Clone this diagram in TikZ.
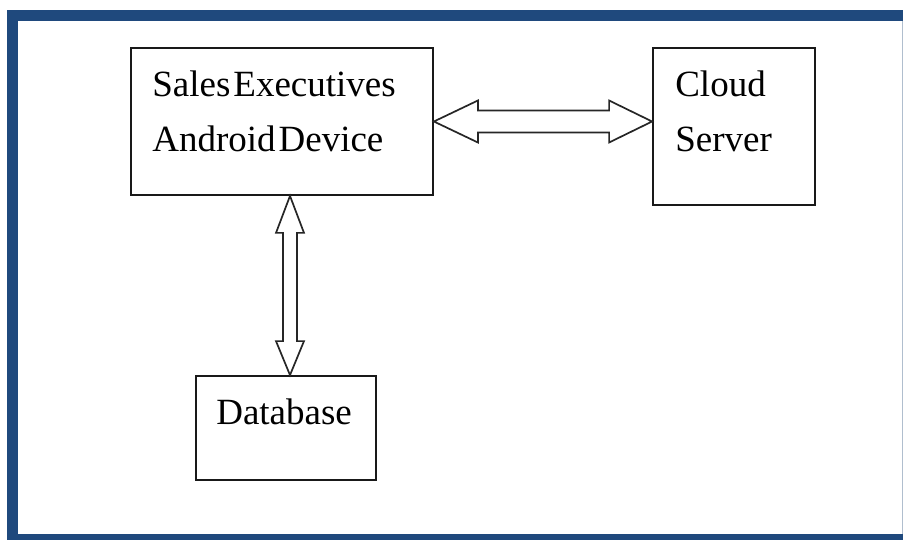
\documentclass[tikz,border=0pt]{standalone}
\usepackage{fontspec}
\setmainfont{Liberation Serif}
\usetikzlibrary{calc}
\definecolor{frameblue}{RGB}{31,73,125}
\definecolor{edgegray}{RGB}{176,190,206}
\newcommand\tsp{\hspace{3pt}}
\tikzset{
  box/.style={draw=black!90, line width=1.8pt, rectangle, inner sep=0pt},
  lbl/.style={inner sep=0pt, anchor=north west, align=left,
    font=\fontsize{37}{55}\selectfont},
  blockarrow/.style={draw=black!85, line width=1.7pt, fill=white, line join=miter}
}
\begin{document}
\begin{tikzpicture}[x=1pt,y=-1pt]
\useasboundingbox (0,0) rectangle (903,540);
% frame
\fill[frameblue] (7,10) rectangle (903,21);
\fill[frameblue] (7,10) rectangle (18,540);
\fill[frameblue] (7,534) rectangle (903,540);
\draw[edgegray, line width=1pt] (902.5,21) -- (902.5,534);
% boxes
\node[box, minimum width=302pt, minimum height=147pt] (sales) at (282,121.5) {};
\node[box, minimum width=162pt, minimum height=157pt] (cloud) at (734,126.5) {};
\node[box, minimum width=180pt, minimum height=104pt] (db) at (286,428) {};
% labels
\node[lbl] (salestxt) at ($(sales.north west)+(22,24)$) {Sales\tsp Executives\\Android\tsp Device};
\node[lbl] (cloudtxt) at ($(cloud.north west)+(23,24)$) {Cloud\\Server};
\node[lbl] (dbtxt) at ($(db.north west)+(21,24)$) {Database};
% horizontal double block arrow
\coordinate (hA) at (sales.east);
\coordinate (hB) at (sales.east -| cloud.west);
\draw[blockarrow] (hA) -- ($(hA)+(44,-21)$) -- ($(hA)+(44,-11)$) -- ($(hB)+(-43,-11)$)
  -- ($(hB)+(-43,-21)$) -- (hB) -- ($(hB)+(-43,21)$) -- ($(hB)+(-43,11)$)
  -- ($(hA)+(44,11)$) -- ($(hA)+(44,21)$) -- cycle;
% vertical double block arrow
\coordinate (vA) at ($(sales.south)+(8,0)$);
\coordinate (vB) at (vA |- db.north);
\draw[blockarrow] (vA) -- ($(vA)+(14,37)$) -- ($(vA)+(7,37)$) -- ($(vB)+(7,-34)$)
  -- ($(vB)+(14,-34)$) -- (vB) -- ($(vB)+(-14,-34)$) -- ($(vB)+(-7,-34)$)
  -- ($(vA)+(-7,37)$) -- ($(vA)+(-14,37)$) -- cycle;
\end{tikzpicture}
\end{document}
